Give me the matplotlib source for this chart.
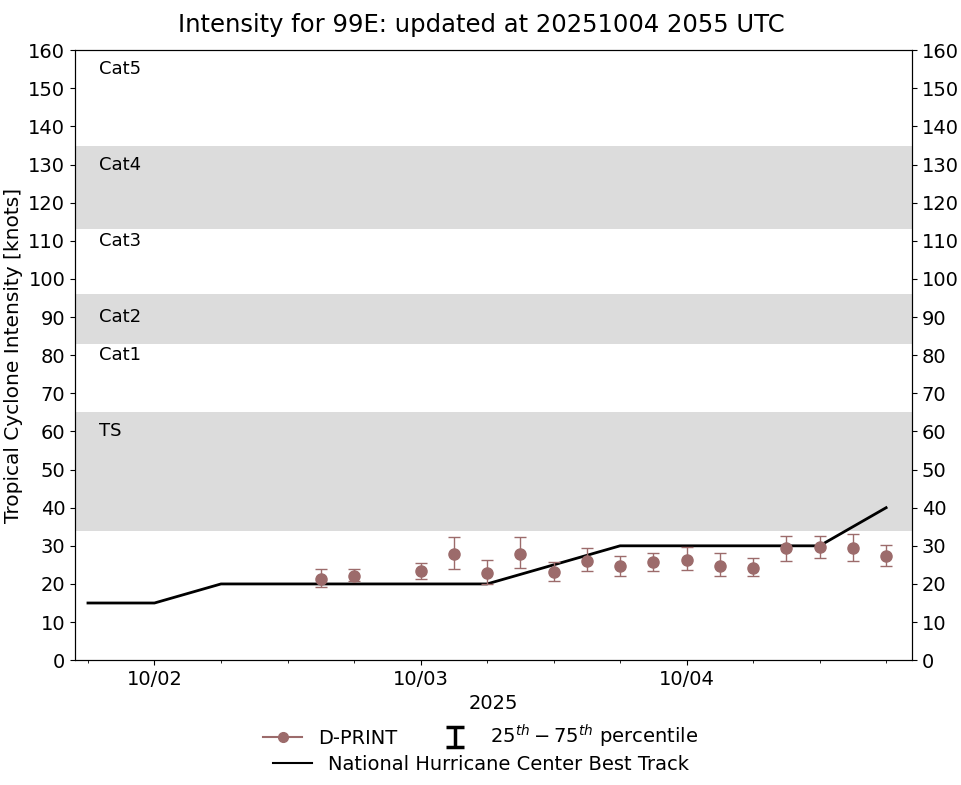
import matplotlib
matplotlib.use('Agg')
import matplotlib.pyplot as plt
import matplotlib.dates as mdates
from matplotlib.lines import Line2D
from datetime import datetime

plt.rcParams.update({'font.size': 14})

# NHC best track, every 6 hours
bt_time = ['2025-10-01 18:00', '2025-10-02 00:00', '2025-10-02 06:00', '2025-10-02 12:00',
           '2025-10-02 18:00', '2025-10-03 00:00', '2025-10-03 06:00', '2025-10-03 12:00',
           '2025-10-03 18:00', '2025-10-04 00:00', '2025-10-04 06:00', '2025-10-04 12:00',
           '2025-10-04 18:00']
bt_vmax = [15, 15, 20, 20, 20, 20, 20, 25, 30, 30, 30, 30, 40]

# D-PRINT estimates (median, 25th, 75th percentile)
dp_time = ['2025-10-02 15:00', '2025-10-02 18:00', '2025-10-03 00:00', '2025-10-03 03:00',
           '2025-10-03 06:00', '2025-10-03 09:00', '2025-10-03 12:00', '2025-10-03 15:00',
           '2025-10-03 18:00', '2025-10-03 21:00', '2025-10-04 00:00', '2025-10-04 03:00',
           '2025-10-04 06:00', '2025-10-04 09:00', '2025-10-04 12:00', '2025-10-04 15:00',
           '2025-10-04 18:00']
dp_med = [21.2, 22.0, 23.5, 27.8, 22.8, 27.8, 23.1, 26.1, 24.6, 25.7, 26.4, 24.8, 24.3, 29.3, 29.6, 29.3, 27.2]
dp_p25 = [19.1, 20.8, 21.2, 23.8, 19.9, 24.3, 20.7, 23.3, 22.2, 23.3, 23.6, 22.0, 22.0, 26.1, 26.7, 26.1, 24.8]
dp_p75 = [23.8, 24.0, 25.6, 32.4, 26.4, 32.2, 25.8, 29.3, 27.2, 28.2, 29.7, 28.2, 26.9, 32.7, 32.7, 33.0, 30.1]

# intensity category bands and labels
bands = [(34, 65), (83, 96), (113, 135)]
cat_names = ['TS', 'Cat1', 'Cat2', 'Cat3', 'Cat4', 'Cat5']
cat_ypos = [60, 80, 90, 110, 130, 155]

fmt = '%Y-%m-%d %H:%M'
bt_t = [datetime.strptime(s, fmt) for s in bt_time]
dp_t = [datetime.strptime(s, fmt) for s in dp_time]

dp_color = '#9c6b6b'

fig = plt.figure(figsize=(9.62, 7.85), dpi=100)
ax = fig.add_axes([0.078, 0.159, 0.870, 0.777])

for lo, hi in bands:
    ax.axhspan(lo, hi, color='#dcdcdc', lw=0, zorder=0)
for name, yv in zip(cat_names, cat_ypos):
    ax.text(0.029, yv, name, transform=ax.get_yaxis_transform(), fontsize=13, va='center', ha='left')

ax.plot(bt_t, bt_vmax, color='k', lw=2, zorder=2)

yerr = [[m - lo for m, lo in zip(dp_med, dp_p25)], [hi - m for m, hi in zip(dp_med, dp_p75)]]
ax.errorbar(dp_t, dp_med, yerr=yerr, fmt='o', color=dp_color, ms=8, elinewidth=1,
            capsize=4, capthick=1, zorder=3)

# legend proxy for the percentile bar, placed outside the visible range
h_pct = ax.errorbar([datetime(2025, 9, 1)], [10], yerr=[5], fmt='none', ecolor='k',
                    elinewidth=2.5, capsize=6.5, capthick=2.5)

ax.set_ylim(0, 160)
ax.set_yticks(range(0, 161, 10))
ax.set_xlim(datetime(2025, 10, 1, 16, 50), datetime(2025, 10, 4, 20, 20))
ax.xaxis.set_major_locator(mdates.DayLocator())
ax.xaxis.set_major_formatter(mdates.DateFormatter('%m/%d'))
ax.xaxis.set_minor_locator(mdates.HourLocator(byhour=[0, 6, 12, 18]))
ax.set_xlabel('2025')
ax.set_ylabel('Tropical Cyclone Intensity [knots]', fontsize=14.5)
# title centred on the figure, not the axes
ax.set_title('Intensity for 99E: updated at 20251004 2055 UTC', fontsize=17.5, pad=13, x=0.486)

ax2 = ax.twinx()
ax2.set_ylim(0, 160)
ax2.set_yticks(range(0, 161, 10))

h_dp = Line2D([], [], color=dp_color, marker='o', ms=7, lw=1.5)
h_bt = Line2D([], [], color='k', lw=1.5)

fig.legend([h_dp, h_pct], ['D-PRINT', '$25^{th} - 75^{th}$ percentile'], ncol=2,
           loc='upper center', bbox_to_anchor=(0.5, 0.091), frameon=False,
           borderpad=0, handletextpad=0.8)
fig.legend([h_bt], ['National Hurricane Center Best Track'], loc='upper center',
           bbox_to_anchor=(0.5, 0.051), frameon=False, borderpad=0, handletextpad=0.8)

plt.savefig('out.png', dpi=100)
